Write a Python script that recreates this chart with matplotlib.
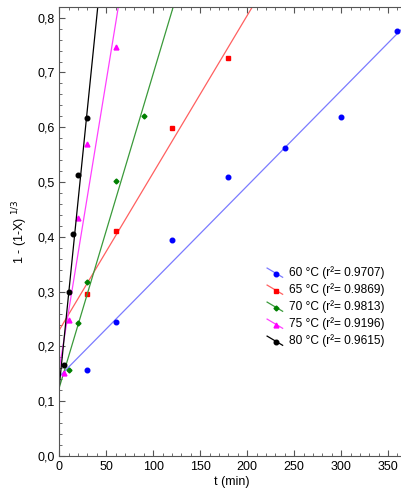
import matplotlib.pyplot as plt
from matplotlib.ticker import MultipleLocator, FuncFormatter
from matplotlib.legend_handler import HandlerBase
from matplotlib.lines import Line2D
import numpy as np

plt.rcParams['font.family'] = ['Liberation Sans', 'DejaVu Sans']

# measured data (t in min, 1-(1-X)^(1/3))
t_60 = [30, 60, 120, 180, 240, 300, 360]
y_60 = [0.157, 0.244, 0.395, 0.510, 0.562, 0.619, 0.776]
t_65 = [30, 60, 120, 180]
y_65 = [0.296, 0.410, 0.598, 0.726]
t_70 = [10, 20, 30, 60, 90]
y_70 = [0.157, 0.243, 0.317, 0.502, 0.620]
t_75 = [5, 10, 20, 30, 60]
y_75 = [0.152, 0.249, 0.434, 0.569, 0.747]
t_80 = [5, 10, 15, 20, 30]
y_80 = [0.167, 0.299, 0.406, 0.512, 0.617]

# fitted lines: intercept, slope
fit_60 = (0.145, 0.00174)
fit_65 = (0.230, 0.00287)
fit_70 = (0.125, 0.00573)
fit_75 = (0.160, 0.0105)
fit_80 = (0.128, 0.0169)

labels = ["60 \u00b0C (r\u00b2= 0.9707)",
          "65 \u00b0C (r\u00b2= 0.9869)",
          "70 \u00b0C (r\u00b2= 0.9813)",
          "75 \u00b0C (r\u00b2= 0.9196)",
          "80 \u00b0C (r\u00b2= 0.9615)"]

series = [
    (t_60, y_60, fit_60, "#0000ff", "#7b7bff", "o", 3.3),
    (t_65, y_65, fit_65, "#ff0000", "#ff6060", "s", 3.3),
    (t_70, y_70, fit_70, "#008000", "#3a9a3a", "D", 2.5),
    (t_75, y_75, fit_75, "#ff00ff", "#ff40ff", "^", 3.5),
    (t_80, y_80, fit_80, "#000000", "#000000", "o", 3.3),
]


class DiagHandler(HandlerBase):
    # legend key: slanted line with the marker in the middle
    def create_artists(self, legend, orig, xdescent, ydescent, width, height,
                       fontsize, trans):
        x0, y0 = -xdescent, -ydescent
        ln = Line2D([x0, x0 + width], [y0 + height * 1.0, y0 - height * 0.1],
                    color=orig.get_color(), lw=orig.get_linewidth(), transform=trans)
        mk = Line2D([x0 + width * 0.6], [y0 + height * 0.35], linestyle="none",
                    marker=orig.get_marker(), markersize=orig.get_markersize(),
                    color=orig.get_markerfacecolor(), transform=trans)
        return [ln, mk]


fig = plt.figure(figsize=(4.01, 4.95), dpi=100)
ax = fig.add_axes([59.3 / 401, 1 - 456 / 495, 1 - 59.3 / 401 + 0.01, (456 - 7.3) / 495])

tt = np.linspace(0, 400, 200)
handles = []
for (t, y, fit, mc, lc, mk, ms), lab in zip(series, labels):
    ax.plot(tt, fit[0] + fit[1] * tt, color=lc, lw=0.9)
    ax.plot(t, y, linestyle="none", marker=mk, color=mc, markersize=ms)
    h, = ax.plot([], [], color=lc, lw=0.9, marker=mk, markerfacecolor=mc,
                 markeredgecolor=mc, markersize=ms)
    handles.append(h)

ax.set_xlim(0, 368)
ax.set_ylim(0, 0.819)
ax.xaxis.set_major_locator(MultipleLocator(50))
ax.xaxis.set_minor_locator(MultipleLocator(10))
ax.yaxis.set_major_locator(MultipleLocator(0.1))
ax.yaxis.set_minor_locator(MultipleLocator(0.02))
ax.yaxis.set_major_formatter(FuncFormatter(lambda v, p: f"{v:.1f}".replace(".", ",")))
ax.tick_params(which="both", direction="in", top=True, right=False,
               labelsize=9, color="#555555")
ax.tick_params(which="major", length=4)
ax.tick_params(which="minor", length=2)
ax.spines["right"].set_visible(False)
for s in ["left", "bottom", "top"]:
    ax.spines[s].set_color("#555555")

ax.set_xlabel("t (min)", fontsize=9, labelpad=2)
ax.set_ylabel("1 - (1-X) $^{1/3}$", fontsize=9)
ax.yaxis.set_label_coords(-0.085, 0.5)

ax.legend(handles, labels, loc="center left", bbox_to_anchor=(0.57, 0.332),
          frameon=False, fontsize=8.6, handlelength=1.3, handletextpad=0.5,
          labelspacing=0.35, handler_map={Line2D: DiagHandler()})

fig.savefig("out.png", dpi=100)
